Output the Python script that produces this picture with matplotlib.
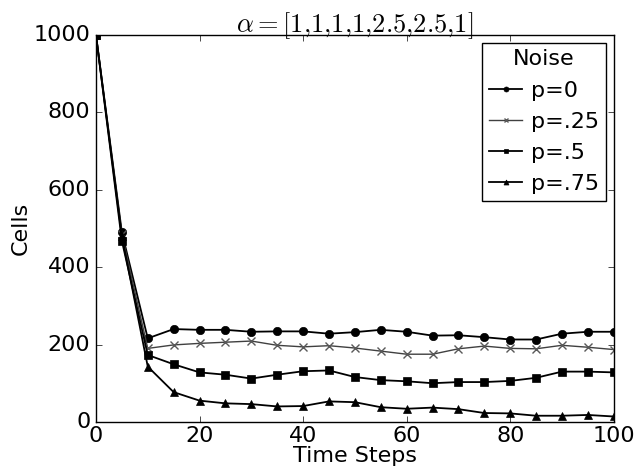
import numpy as np
import matplotlib
matplotlib.use('Agg')
import matplotlib.pyplot as plt

# --- data ---
steps = [0, 5, 10, 15, 20, 25, 30, 35, 40, 45, 50, 55, 60, 65, 70, 75, 80, 85, 90, 95, 100]

p0 = [1000, 490, 216, 240, 238, 238, 233, 234, 234, 228, 232, 238, 233, 223, 224, 219, 213, 213, 228, 233, 233]
p25 = [1000, 485, 190, 199, 203, 206, 209, 198, 194, 197, 191, 183, 175, 175, 189, 196, 190, 189, 198, 193, 187]
p50 = [1000, 468, 173, 149, 128, 122, 112, 122, 131, 133, 116, 108, 105, 100, 103, 103, 106, 114, 130, 130, 128]
p75 = [1000, 480, 143, 77, 55, 48, 46, 40, 41, 53, 51, 38, 34, 37, 33, 23, 22, 16, 16, 18, 14]

labels = ['p=0', 'p=.25', 'p=.5', 'p=.75']
markers = ['o', 'x', 's', '^']

plt.style.use('classic')
plt.rcParams['mathtext.fontset'] = 'cm'
plt.rcParams['font.family'] = 'DejaVu Sans'

fig = plt.figure(figsize=(6.42, 4.73), dpi=100, facecolor='white')
ax = fig.add_axes([0.1495, 0.108, 0.8065, 0.818])

for vals, lab, mk in zip([p0, p25, p50, p75], labels, markers):
    if mk == 'x':
        ax.plot(steps, vals, color='0.25', marker=mk, lw=1.0, ms=6, mew=1.0, mec='0.35', label=lab)
    else:
        ax.plot(steps, vals, color='k', marker=mk, lw=1.3, ms=6, mfc='k', mec='k', label=lab)

ax.set_xlim(0, 100)
ax.set_ylim(0, 1000)
ax.set_xticks(np.arange(0, 101, 20))
ax.set_yticks(np.arange(0, 1001, 200))
ax.tick_params(labelsize=16, direction='in', top=True, right=True)
ax.tick_params(axis='x', pad=3)
ax.set_xlabel('Time Steps', fontsize=16, labelpad=0)
ax.set_ylabel('Cells', fontsize=16, labelpad=2)
ax.set_title(r'$\alpha=[1{,}1{,}1{,}1{,}2.5{,}2.5{,}1]$', fontsize=19, y=0.99)

leg = ax.legend(loc='upper right', title='Noise', fontsize=16, numpoints=1,
                fancybox=False, handlelength=1.5, handletextpad=0.4, markerscale=0.6,
                borderpad=0.3, labelspacing=0.5, borderaxespad=0.35)
leg.get_title().set_fontsize(16)
leg.get_frame().set_edgecolor('k')

fig.savefig('out.png', dpi=100, facecolor='white')
